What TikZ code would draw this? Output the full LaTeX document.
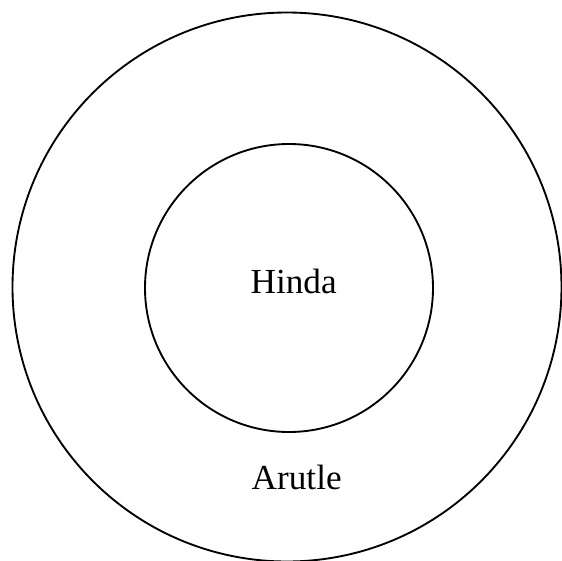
\documentclass[tikz,border=0pt]{standalone}
\usepackage{fontspec}
\setmainfont{Liberation Serif}
\begin{document}
\begin{tikzpicture}[x=0.75pt, y=-0.75pt, line width=1.4pt,
    every node/.style={font=\fontsize{26.4}{30}\selectfont},
    ring/.style={draw, circle, inner sep=0pt}]
  \useasboundingbox (0,0) rectangle (562,561);
  % dış halka ve iç daire
  \node[ring, minimum size=411.75pt] (outer) at (287,287) {};
  \node[ring, minimum size=216pt] (inner) at (289,288) {};
  % etiketler
  \node[anchor=base] (hinda) at (293.7,293) {Hinda};
  \node[anchor=base] (arutle) at (296.7,489.3) {Arutle};
\end{tikzpicture}
\end{document}
